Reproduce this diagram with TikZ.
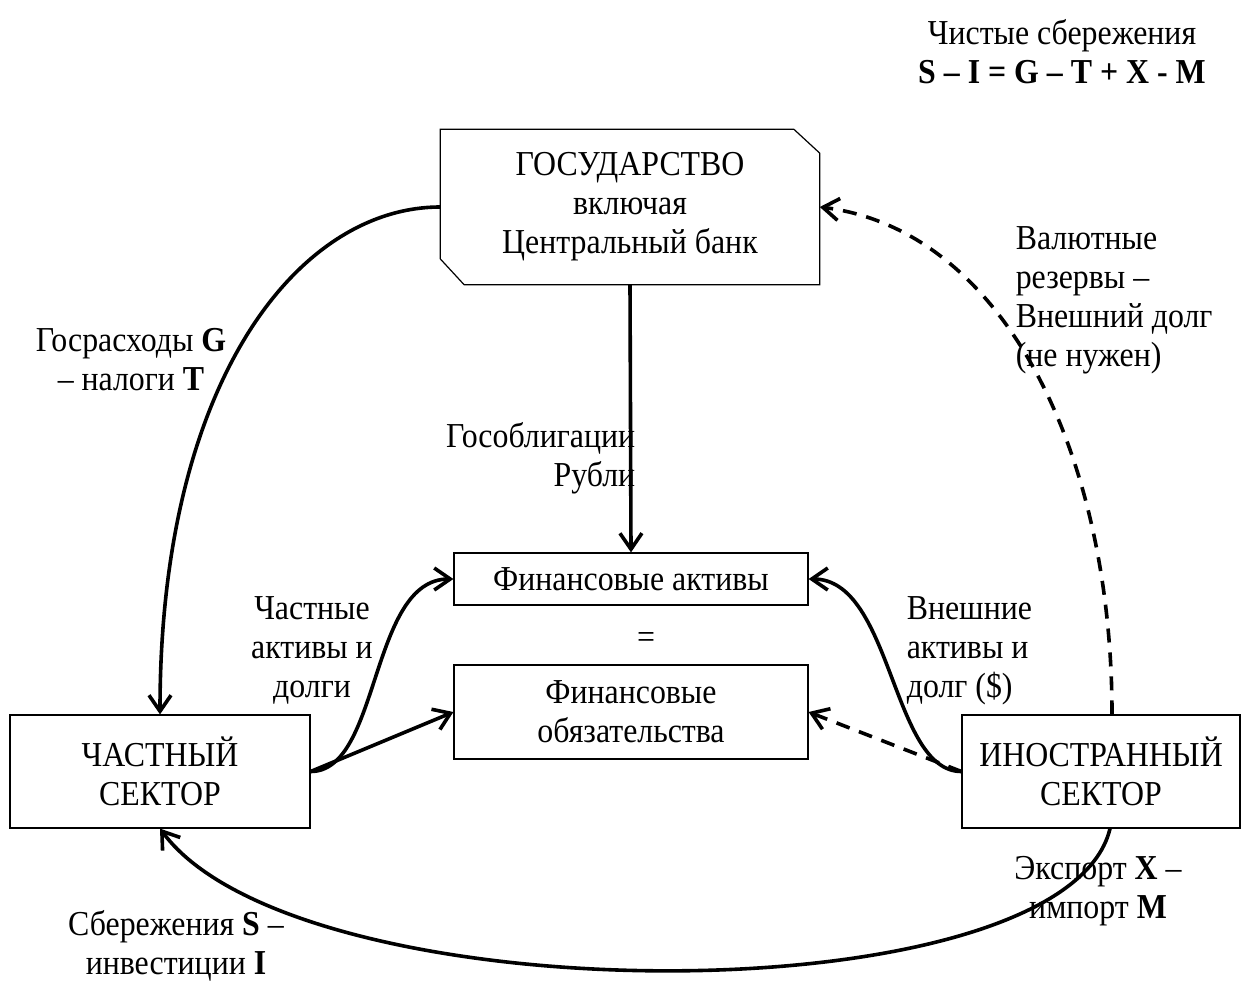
\documentclass[tikz,border=0pt]{standalone}
\usepackage{fontspec}
\setmainfont[FakeStretch=0.91]{Liberation Serif}
\usepackage{tikz}
\usetikzlibrary{arrows.meta,calc}
\usetikzlibrary{positioning}

\begin{document}
\begin{tikzpicture}[
      x=0.5pt, y=-0.5pt, font=\fontsize{17.5}{19.5}\selectfont,
      >={Straight Barb[length=8pt,width=11pt]}, line width=1.8pt,
      box/.style={rectangle, draw, line width=0.6pt, align=center},
      lbl/.style={align=center, inner sep=0pt},
      flow/.style={->},
      dflow/.style={->, dash pattern=on 7pt off 5pt}]

      \useasboundingbox (0,0) rectangle (1251,996);

      % Nodes
      \node[align=center, inner sep=0pt, minimum width=188pt, minimum height=76pt] (gov) at (630,207)
            {ГОСУДАРСТВО\\включая\\Центральный банк};
      \draw[line width=0.6pt] (gov.north west) -- ([xshift=-13pt]gov.north east)
            -- ([yshift=-12pt]gov.north east) -- (gov.south east)
            -- ([xshift=12pt]gov.south west) -- ([yshift=13pt]gov.south west) -- cycle;
      \node[box, minimum width=177pt, minimum height=26pt] (fa) at (631,579) {Финансовые активы};
      \node[box, minimum width=177pt, minimum height=47pt] (fl) at (631,712) {Финансовые\\обязательства};
      \node[box, minimum width=150pt, minimum height=56.5pt] (priv) at (160,771.5) {ЧАСТНЫЙ\\СЕКТОР};
      \node[box, minimum width=139pt, minimum height=56.5pt] (fo) at (1101,771.5) {ИНОСТРАННЫЙ\\СЕКТОР};
      \node (eq) at (646,640) {=};

      % Edges
      \draw[flow] (gov.west) .. controls +(-141,0) and +(0,-335) .. (priv.north);
      \draw[flow] (gov.south) -- (fa.north);
      \draw[flow] (priv.east) .. controls +(70,0) and +(-84,0) .. (fa.west);
      \draw[flow] (priv.east) -- (fl.west);
      \draw[flow] (fo.west) .. controls +(-70,0) and +(84,0) .. (fa.east);
      \draw[dflow] (fo.west) -- (fl.east);
      \draw[dflow] ([xshift=5.5pt]fo.north) .. controls +(0,-265) and +(182,23) .. (gov.east);
      \draw[flow] ([xshift=4.5pt]fo.south) .. controls +(-45,189) and +(140,189) .. (priv.south);

      % Labels
      \node[lbl] (net) at (1062,52) {Чистые сбережения\\\textbf{S – I = G – T + X - M}};
      \node[lbl] (lgt) at (131,360) {Госрасходы \textbf{G}\\– налоги \textbf{T}};
      \node[lbl, anchor=east, align=right] (lbond) at (637,458) {Гособлигации\\Рубли};
      \node[lbl] (lpriv) at (312,650) {Частные\\активы и\\долги};
      \node[lbl, anchor=west, align=left] (lext) at (905,651) {Внешние\\активы и\\долг (\$)};
      \node[lbl, anchor=west, align=left] (lres) at (1014,300) {Валютные\\резервы –\\Внешний долг\\(не нужен)};
      \node[lbl] (lxm) at (1098,891) {Экспорт \textbf{X} –\\импорт \textbf{M}};
      \node[lbl] (lsi) at (176,946) {Сбережения \textbf{S} –\\инвестиции \textbf{I}};

    \end{tikzpicture}
\end{document}
